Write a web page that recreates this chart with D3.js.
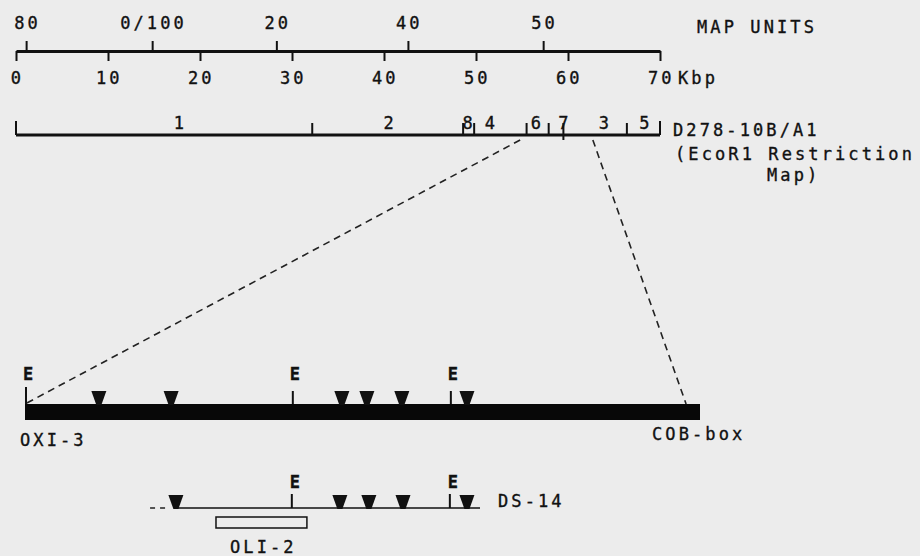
<!DOCTYPE html>
<html>
<head>
  <meta charset="utf-8">
  <title>Mitochondrial DNA map - OXI-3 to COB-box</title>
  <script src="https://d3js.org/d3.v7.min.js"></script>
  <style>
    body {
      margin: 0;
      background: #ececec;
    }
    svg text {
      font-family: "DejaVu Sans Mono", monospace;
      font-size: 17px;
      letter-spacing: 3.1px;
      fill: #111;
      stroke: #111;
      stroke-width: 0.35px;
    }
    .axis path, .axis line {
      stroke: #111;
    }
    .bold {
      font-weight: bold;
      letter-spacing: 0;
    }
  </style>
</head>
<body>
  <div id="chart"></div>
  <script>
    // kbp scale ticks (below the top line)
    var kbpTicks = [0, 10, 20, 30, 40, 50, 60, 70];
    // map unit ticks, position given in kbp, label as printed
    var mapUnitPos = [1.1, 14.8, 28.3, 42.6, 57.3];
    var mapUnitLabels = ["80", "0/100", "20", "40", "50"];

    // EcoR1 restriction fragments of D278-10B/A1 (boundaries in kbp)
    var fragBounds = [0, 32.2, 48.6, 49.8, 55.5, 57.9, 59.5, 66.4, 70];
    var fragNames = ["1", "2", "8", "4", "6", "7", "3", "5"];
    var fragLabelPos = [17.7, 40.5, 49.1, 51.5, 56.5, 59.5, 63.9, 68.3];

    // region blown up below (kbp on the restriction map)
    var zoomFrom = 54.8, zoomTo = 62.7;

    // expanded region, positions in kb from the left EcoR1 site
    var regionLength = 17.0;
    var oxiEcoSites = [0, 6.72, 10.7];
    var oxiMarkers = [1.86, 3.68, 7.98, 8.61, 9.49, 11.13];
    var ds14EcoSites = [6.72, 10.7];
    var ds14Markers = [3.8, 7.93, 8.66, 9.52, 11.13];
    var ds14Dashed = [3.15, 3.6];
    var ds14Solid = [3.83, 11.46];
    var oli2 = [4.81, 7.1];
    var cobConnect = 16.65;

    var svg = d3.select("#chart")
      .append("svg")
      .attr("width", 920)
      .attr("height", 556);

    var x = d3.scaleLinear().domain([0, 70]).range([16, 660]);
    var xr = d3.scaleLinear().domain([0, regionLength]).range([25, 700]);

    // top line with kbp below and map units above
    var axisY = 51;
    var kbpAxis = svg.append("g")
      .attr("class", "axis")
      .attr("transform", "translate(0," + axisY + ")")
      .call(d3.axisBottom(x).tickValues(kbpTicks).tickSize(10).tickSizeOuter(0).tickPadding(11));
    kbpAxis.select(".domain").attr("stroke-width", 3);
    kbpAxis.selectAll(".tick line").attr("stroke-width", 2);

    var muAxis = svg.append("g")
      .attr("class", "axis")
      .attr("transform", "translate(0," + axisY + ")")
      .call(d3.axisTop(x).tickValues(mapUnitPos)
        .tickFormat(function(d, i) { return mapUnitLabels[i]; })
        .tickSize(10).tickSizeOuter(0).tickPadding(12));
    muAxis.select(".domain").remove();
    muAxis.selectAll(".tick line").attr("stroke-width", 2);

    svg.selectAll(".axis text")
      .attr("font-family", null)
      .attr("font-size", null)
      .attr("dx", "0.05em");

    svg.append("text").attr("x", 697).attr("y", 33).text("MAP UNITS");
    svg.append("text").attr("x", 678).attr("y", 84).text("Kbp");

    // EcoR1 restriction map
    var resY = 135;
    svg.append("line")
      .attr("x1", x(0)).attr("x2", x(70))
      .attr("y1", resY).attr("y2", resY)
      .attr("stroke", "#111").attr("stroke-width", 3);

    svg.selectAll(".frag-tick")
      .data(fragBounds)
      .enter()
      .append("line")
      .attr("class", "frag-tick")
      .attr("x1", function(d) { return x(d); })
      .attr("x2", function(d) { return x(d); })
      .attr("y1", function(d, i) { return i == 0 || i == fragBounds.length - 1 ? resY - 14 : resY - 12; })
      .attr("y2", function(d, i) { return i == 6 ? resY + 5 : resY; })
      .attr("stroke", "#111")
      .attr("stroke-width", 2);

    svg.selectAll(".frag-label")
      .data(fragNames)
      .enter()
      .append("text")
      .attr("class", "frag-label")
      .attr("x", function(d, i) { return x(fragLabelPos[i]); })
      .attr("y", resY - 6)
      .attr("text-anchor", "middle")
      .style("letter-spacing", "0")
      .text(function(d) { return d; });

    svg.append("text").attr("x", 673).attr("y", 136).text("D278-10B/A1");
    svg.append("text").attr("x", 675).attr("y", 160).text("(EcoR1 Restriction");
    svg.append("text").attr("x", 767).attr("y", 181).text("Map)");

    // expanded OXI-3 ... COB-box region
    var barTop = 404, barH = 16;

    // dashed lines joining the restriction map to the expanded region
    svg.append("line")
      .attr("x1", x(zoomFrom)).attr("y1", resY + 5)
      .attr("x2", xr(0)).attr("y2", barTop)
      .attr("stroke", "#222").attr("stroke-width", 1.6)
      .attr("stroke-dasharray", "7,5");
    svg.append("line")
      .attr("x1", x(zoomTo)).attr("y1", resY + 5)
      .attr("x2", xr(cobConnect)).attr("y2", barTop)
      .attr("stroke", "#222").attr("stroke-width", 1.6)
      .attr("stroke-dasharray", "7,5");

    svg.append("rect")
      .attr("x", xr(0))
      .attr("y", barTop)
      .attr("width", xr(regionLength) - xr(0))
      .attr("height", barH)
      .attr("fill", "#080808");

    var tri = function(cx, tipY) {
      return "M" + (cx - 7.5) + "," + (tipY - 14) + "L" + (cx + 7.5) + "," + (tipY - 14) +
        "L" + (cx + 2.5) + "," + tipY + "L" + (cx - 2.5) + "," + tipY + "Z";
    };

    // EcoR1 sites on OXI-3 bar
    svg.selectAll(".oxi-e")
      .data(oxiEcoSites)
      .enter()
      .append("line")
      .attr("class", "oxi-e")
      .attr("x1", function(d) { return xr(d) + 1; })
      .attr("x2", function(d) { return xr(d) + 1; })
      .attr("y1", function(d, i) { return i == 0 ? barTop - 17 : barTop - 13; })
      .attr("y2", barTop)
      .attr("stroke", "#111").attr("stroke-width", 2);

    svg.selectAll(".oxi-e-label")
      .data(oxiEcoSites)
      .enter()
      .append("text")
      .attr("class", "oxi-e-label bold")
      .attr("x", function(d) { return xr(d) + 3; })
      .attr("y", 380)
      .attr("text-anchor", "middle")
      .text("E");

    svg.selectAll(".oxi-mark")
      .data(oxiMarkers)
      .enter()
      .append("path")
      .attr("class", "oxi-mark")
      .attr("d", function(d) { return tri(xr(d), barTop + 1); })
      .attr("fill", "#111");

    svg.append("text").attr("x", 20).attr("y", 446).text("OXI-3");
    svg.append("text").attr("x", 652).attr("y", 440).text("COB-box");

    // DS-14
    var dsY = 508;
    svg.append("line")
      .attr("x1", xr(ds14Dashed[0])).attr("x2", xr(ds14Dashed[1]))
      .attr("y1", dsY).attr("y2", dsY)
      .attr("stroke", "#222").attr("stroke-width", 1.5)
      .attr("stroke-dasharray", "5,5");
    svg.append("line")
      .attr("x1", xr(ds14Solid[0])).attr("x2", xr(ds14Solid[1]))
      .attr("y1", dsY).attr("y2", dsY)
      .attr("stroke", "#111").attr("stroke-width", 1.5);

    svg.selectAll(".ds-e")
      .data(ds14EcoSites)
      .enter()
      .append("line")
      .attr("class", "ds-e")
      .attr("x1", function(d) { return xr(d); })
      .attr("x2", function(d) { return xr(d); })
      .attr("y1", dsY - 14)
      .attr("y2", dsY)
      .attr("stroke", "#111").attr("stroke-width", 2);

    svg.selectAll(".ds-e-label")
      .data(ds14EcoSites)
      .enter()
      .append("text")
      .attr("class", "ds-e-label bold")
      .attr("x", function(d) { return xr(d) + 3; })
      .attr("y", 488)
      .attr("text-anchor", "middle")
      .text("E");

    svg.selectAll(".ds-mark")
      .data(ds14Markers)
      .enter()
      .append("path")
      .attr("class", "ds-mark")
      .attr("d", function(d) { return tri(xr(d), dsY + 1); })
      .attr("fill", "#111");

    svg.append("text").attr("x", 498).attr("y", 507).text("DS-14");

    // OLI-2 gene
    svg.append("rect")
      .attr("x", xr(oli2[0]))
      .attr("y", 517)
      .attr("width", xr(oli2[1]) - xr(oli2[0]))
      .attr("height", 11)
      .attr("fill", "none")
      .attr("stroke", "#111")
      .attr("stroke-width", 1.5);

    svg.append("text").attr("x", 230).attr("y", 553).text("OLI-2");
  </script>
</body>
</html>
